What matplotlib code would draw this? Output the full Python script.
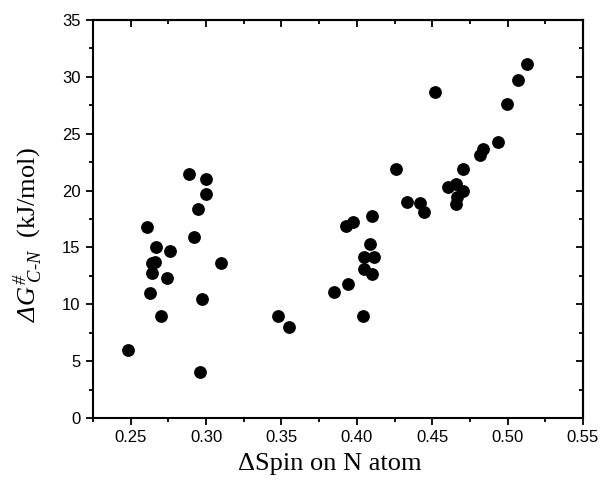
import matplotlib
matplotlib.use('Agg')
import matplotlib.pyplot as plt
from matplotlib.ticker import MultipleLocator, FormatStrFormatter

# ── Data ───────────────────────────────────────────────────────────
spin_low = [0.2887, 0.300, 0.300, 0.2948, 0.261, 0.292, 0.267, 0.276,
            0.2639, 0.2661, 0.2639, 0.310, 0.274, 0.2628, 0.2971, 0.2699,
            0.248, 0.296]
dg_low = [21.43, 21.0, 19.73, 18.38, 16.8, 15.89, 15.07, 14.71,
          13.66, 13.75, 12.78, 13.6, 12.35, 10.96, 10.46, 9.0,
          5.98, 4.07]

spin_mid = [0.348, 0.3552, 0.3849, 0.394, 0.3928, 0.3977, 0.4039, 0.4047,
            0.4047, 0.4114, 0.4087, 0.4098, 0.4098]
dg_mid = [8.97, 7.97, 11.11, 11.78, 16.89, 17.27, 8.97, 13.1,
          14.19, 14.19, 15.3, 12.64, 17.8]

spin_high = [0.4258, 0.433, 0.442, 0.4448, 0.4518, 0.4607, 0.4658, 0.4705,
             0.4662, 0.4658, 0.4706, 0.4817, 0.4834, 0.4938, 0.4998,
             0.5067, 0.5127]
dg_high = [21.9, 18.97, 18.88, 18.14, 28.7, 20.29, 20.55, 20.0,
           19.4, 18.85, 21.9, 23.1, 23.63, 24.3, 27.6,
           29.73, 31.13]

spin = spin_low + spin_mid + spin_high
dg = dg_low + dg_mid + dg_high

# ── Style ──────────────────────────────────────────────────────────
# italic serif for the whole math part (so the Delta is slanted too)
plt.rcParams['mathtext.fontset'] = 'custom'
plt.rcParams['mathtext.rm'] = 'Liberation Serif:italic'
plt.rcParams['mathtext.it'] = 'Liberation Serif:italic'

fig = plt.figure(figsize=(6.01, 4.87), dpi=100, facecolor='white')
ax = fig.add_axes([0.1547, 0.1417, 0.8153, 0.8172])

ax.scatter(spin, dg, s=85, color='black', linewidths=0, zorder=3)

ax.set_xlim(0.225, 0.55)
ax.set_ylim(0, 35)
ax.xaxis.set_major_locator(MultipleLocator(0.05))
ax.xaxis.set_minor_locator(MultipleLocator(0.025))
ax.yaxis.set_major_locator(MultipleLocator(5))
ax.yaxis.set_minor_locator(MultipleLocator(2.5))
ax.xaxis.set_major_formatter(FormatStrFormatter('%.2f'))

for spine in ax.spines.values():
    spine.set_linewidth(1.5)

ax.tick_params(which='major', direction='out', length=5, width=1.3,
               labelsize=12, pad=4)
ax.tick_params(which='minor', direction='out', length=3, width=1.3)
for lbl in ax.get_xticklabels() + ax.get_yticklabels():
    lbl.set_fontfamily('Liberation Sans')

# mirrored ticks pointing inward on top/right
top = ax.secondary_xaxis('top')
top.xaxis.set_major_locator(MultipleLocator(0.05))
top.xaxis.set_minor_locator(MultipleLocator(0.025))
top.tick_params(which='major', direction='in', length=5, width=1.3, labeltop=False)
top.tick_params(which='minor', direction='in', length=3, width=1.3)
top.spines['top'].set_linewidth(1.5)

right = ax.secondary_yaxis('right')
right.yaxis.set_major_locator(MultipleLocator(5))
right.yaxis.set_minor_locator(MultipleLocator(2.5))
right.tick_params(which='major', direction='in', length=5, width=1.3, labelright=False)
right.tick_params(which='minor', direction='in', length=3, width=1.3)
right.spines['right'].set_linewidth(1.5)

ax.set_xlabel('ΔSpin on N atom', fontsize=19, fontfamily='Liberation Serif')
ax.xaxis.set_label_coords(0.484, -0.088)
ax.set_ylabel(r'$\Delta G^{\#}_{\ C\text{-}N}$  (kJ/mol)',
              fontsize=19, fontfamily='Liberation Serif')
ax.yaxis.set_label_coords(-0.098, 0.46)

fig.savefig('out.png', dpi=100, facecolor='white')
